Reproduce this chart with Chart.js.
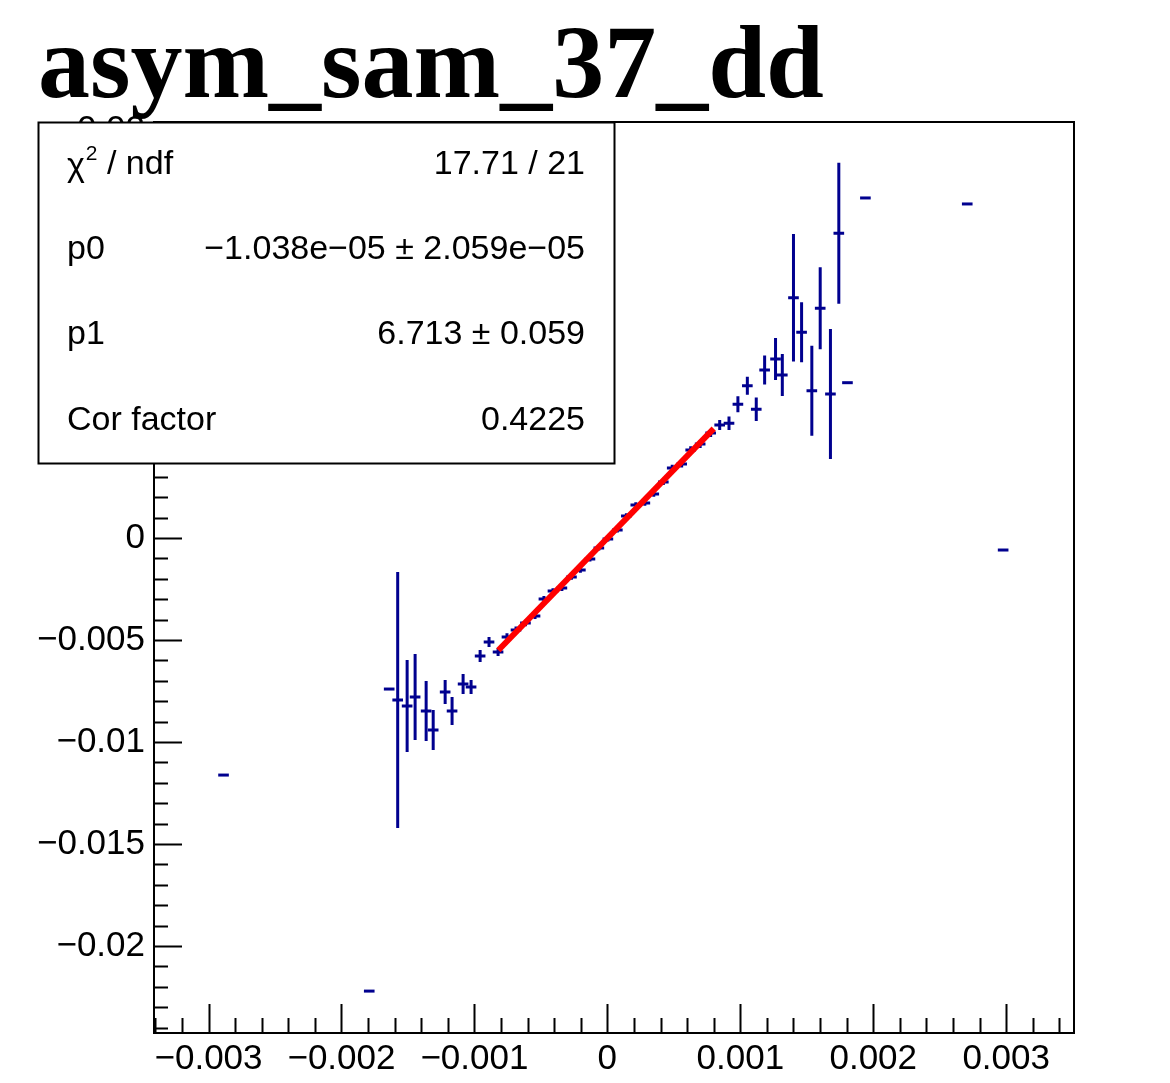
<!DOCTYPE html>
<html>
<head>
<meta charset="utf-8">
<script src="https://cdn.jsdelivr.net/npm/chart.js@4.4.1/dist/chart.umd.min.js"></script>
<style>
  html, body { margin: 0; padding: 0; background: #fff; }
  canvas { display: block; }
</style>
</head>
<body>
<canvas id="grafico" width="1170" height="1083"></canvas>
<script>
// profile points (x, y, y error)
const pontosX = [
  -0.002887, -0.001791, -0.001641, -0.001577, -0.001506, -0.001446, -0.001363, -0.001310,
  -0.001220, -0.001168, -0.001085, -0.001025, -0.000957, -0.000890, -0.000822,
  -0.000755, -0.000687, -0.000616, -0.000544, -0.000477, -0.000409, -0.000342, -0.000270,
  -0.000203, -0.000131, -0.000064, 0.000004, 0.000075, 0.000143, 0.000214, 0.000282,
  0.000349, 0.000421, 0.000488, 0.000559, 0.000627, 0.000698, 0.000777,
  0.000845, 0.000915, 0.000982, 0.001053, 0.001120, 0.001183, 0.001265, 0.001316,
  0.001400, 0.001461, 0.001538, 0.001601, 0.001678, 0.001741, 0.001806, 0.001941,
  0.002707, 0.002977
];
const pontosY = [
  -0.011618, -0.022206, -0.007402, -0.007941, -0.008235, -0.007794, -0.008480, -0.009412,
  -0.007549, -0.008480, -0.007157, -0.007304, -0.005784, -0.005098, -0.005588,
  -0.004853, -0.004510, -0.004167, -0.003824, -0.002990, -0.002598, -0.002451, -0.001912,
  -0.001569, -0.001029, -0.000490, -0.000049, 0.000392, 0.001078, 0.001618, 0.001716,
  0.002157, 0.002745, 0.003431, 0.003627, 0.004314, 0.004608, 0.005147,
  0.005539, 0.005623, 0.006554, 0.007466, 0.006309, 0.008235, 0.008775, 0.007990,
  0.011780, 0.010083, 0.007221, 0.011260, 0.007059, 0.014936, 0.007613, 0.016667,
  0.016373, -0.000588
];
const errosY = [
  0, 0, 0, 0.006275, 0.002255, 0.002108, 0.001471, 0.000980,
  0.000588, 0.000686, 0.000490, 0.000343, 0.000294, 0.000245, 0.000196,
  0.00018, 0.00017, 0.00016, 0.00015, 0.00015, 0.00014, 0.00014, 0.00013,
  0.00013, 0.00012, 0.00012, 0.00012, 0.00012, 0.00013, 0.00013, 0.00014,
  0.00014, 0.00015, 0.00016, 0.00017, 0.00018, 0.00019, 0.00020,
  0.000245, 0.000328, 0.000392, 0.000441, 0.000574, 0.000716, 0.001029, 0.001029,
  0.003123, 0.001471, 0.002206, 0.002010, 0.003186, 0.003456, 0, 0,
  0, 0
];
const meiaLarguraX = 0.00004;

// fit line ends, as seen in the picture
const ajusteX = [-0.00082, 0.00080];
const ajusteY = [-0.00550, 0.00536];

const xTicks = [-0.003, -0.002, -0.001, 0, 0.001, 0.002, 0.003];
const xTickLabels = ['\u22120.003', '\u22120.002', '\u22120.001', '0', '0.001', '0.002', '0.003'];
const yTicks = [-0.02, -0.015, -0.01, -0.005, 0, 0.005, 0.01, 0.015, 0.02];
const yTickLabels = ['\u22120.02', '\u22120.015', '\u22120.01', '\u22120.005', '0', '0.005', '0.01', '0.015', '0.02'];

const titulo = 'asym_sam_37_dd';
const estatNomes = ['/ ndf', 'p0', 'p1', 'Cor factor'];
const estatValores = ['17.71 / 21', '\u22121.038e\u221205 \u00b1 2.059e\u221205', '6.713 \u00b1 0.059', '0.4225'];

const corPonto = '#00008f';
const fonteStat = '34px "Liberation Sans", Arial, sans-serif';

const barrasErro = {
  id: 'barrasErro',
  beforeDatasetsDraw(chart) {
    const { ctx, chartArea } = chart;
    const x = chart.scales.x, y = chart.scales.y;
    ctx.save();
    ctx.beginPath();
    ctx.rect(chartArea.left, chartArea.top, chartArea.width, chartArea.height);
    ctx.clip();
    ctx.strokeStyle = corPonto;
    ctx.lineWidth = 3;
    pontosX.forEach((vx, i) => {
      const cx = x.getPixelForValue(vx);
      const cy = y.getPixelForValue(pontosY[i]);
      ctx.beginPath();
      ctx.moveTo(x.getPixelForValue(vx - meiaLarguraX), cy);
      ctx.lineTo(x.getPixelForValue(vx + meiaLarguraX), cy);
      if (errosY[i] > 0) {
        ctx.moveTo(cx, y.getPixelForValue(pontosY[i] + errosY[i]));
        ctx.lineTo(cx, y.getPixelForValue(pontosY[i] - errosY[i]));
      }
      ctx.stroke();
    });
    ctx.restore();
  }
};

const moldura = {
  id: 'moldura',
  afterDraw(chart) {
    const { ctx, chartArea: a } = chart;
    const x = chart.scales.x, y = chart.scales.y;
    ctx.save();
    ctx.strokeStyle = '#000';
    ctx.lineWidth = 2;
    // ticks inside the frame, ROOT style
    ctx.beginPath();
    for (let k = -17; k <= 17; k++) {
      const px = Math.round(x.getPixelForValue(k * 0.0002)) + 0.5;
      if (px <= a.left + 1 || px >= a.right - 1) continue;
      const len = (k % 5 === 0) ? 29 : 15;
      ctx.moveTo(px, a.bottom);
      ctx.lineTo(px, a.bottom - len);
    }
    for (let k = -24; k <= 20; k++) {
      const py = Math.round(y.getPixelForValue(k * 0.001)) + 0.5;
      if (py <= a.top + 1 || py >= a.bottom - 1) continue;
      const len = (k % 5 === 0) ? 28 : 14;
      ctx.moveTo(a.left, py);
      ctx.lineTo(a.left + len, py);
    }
    ctx.stroke();
    ctx.strokeRect(a.left, a.top, a.right - a.left, a.bottom - a.top);

    // title
    ctx.fillStyle = '#000';
    ctx.font = 'bold 104px "Liberation Serif", "Times New Roman", serif';
    ctx.textAlign = 'left';
    ctx.textBaseline = 'alphabetic';
    ctx.fillText(titulo, 38, 97);

    // stats box
    const bx = 38, by = 122, bw = 576, bh = 341;
    ctx.fillStyle = '#fff';
    ctx.fillRect(bx, by, bw, bh);
    ctx.strokeRect(bx + 0.5, by + 0.5, bw, bh);
    ctx.fillStyle = '#000';
    ctx.font = fonteStat;
    ctx.textBaseline = 'middle';
    const linhas = [165, 250, 335, 421];
    linhas.forEach((ly, i) => {
      ctx.textAlign = 'left';
      if (i === 0) {
        ctx.fillText('\u03c7', 67, ly + 2);
        const wChi = ctx.measureText('\u03c7').width;
        ctx.font = '21px "Liberation Sans", Arial, sans-serif';
        ctx.fillText('2', 67 + wChi + 1, ly - 11);
        const w2 = ctx.measureText('2').width;
        ctx.font = fonteStat;
        ctx.fillText(' ' + estatNomes[0], 67 + wChi + w2 + 1, ly);
      } else {
        ctx.fillText(estatNomes[i], 67, ly);
      }
      ctx.textAlign = 'right';
      ctx.fillText(estatValores[i], 585, ly);
    });
    ctx.restore();
  }
};

new Chart(document.getElementById('grafico'), {
  type: 'scatter',
  data: {
    datasets: [
      {
        type: 'line',
        label: 'ajuste',
        data: ajusteX.map((vx, i) => ({ x: vx, y: ajusteY[i] })),
        borderColor: '#ff0000',
        borderWidth: 6,
        pointRadius: 0,
        fill: false
      },
      {
        label: 'asym_sam_37_dd',
        data: pontosX.map((vx, i) => ({ x: vx, y: pontosY[i] })),
        pointRadius: 0,
        showLine: false
      }
    ]
  },
  options: {
    responsive: false,
    animation: false,
    layout: { padding: { top: 122, right: 96, bottom: 0, left: 0 } },
    plugins: {
      legend: { display: false },
      tooltip: { enabled: false },
      title: { display: false }
    },
    scales: {
      x: {
        type: 'linear',
        min: -0.00341,
        max: 0.00351,
        grid: { display: false, drawTicks: false },
        border: { display: false },
        afterBuildTicks: s => { s.ticks = xTicks.map(v => ({ value: v })); },
        afterFit: s => { s.height = 50; },
        ticks: {
          autoSkip: false,
          maxRotation: 0,
          padding: 5,
          color: '#000',
          font: { family: '"Liberation Sans", Arial, sans-serif', size: 35 },
          callback: (v, i) => xTickLabels[i]
        }
      },
      y: {
        type: 'linear',
        min: -0.02426,
        max: 0.02039,
        grid: { display: false, drawTicks: false },
        border: { display: false },
        afterBuildTicks: s => { s.ticks = yTicks.map(v => ({ value: v })); },
        afterFit: s => { s.width = 154; },
        ticks: {
          autoSkip: false,
          padding: 9,
          color: '#000',
          font: { family: '"Liberation Sans", Arial, sans-serif', size: 35 },
          callback: (v, i) => yTickLabels[i]
        }
      }
    }
  },
  plugins: [barrasErro, moldura]
});
</script>
</body>
</html>
